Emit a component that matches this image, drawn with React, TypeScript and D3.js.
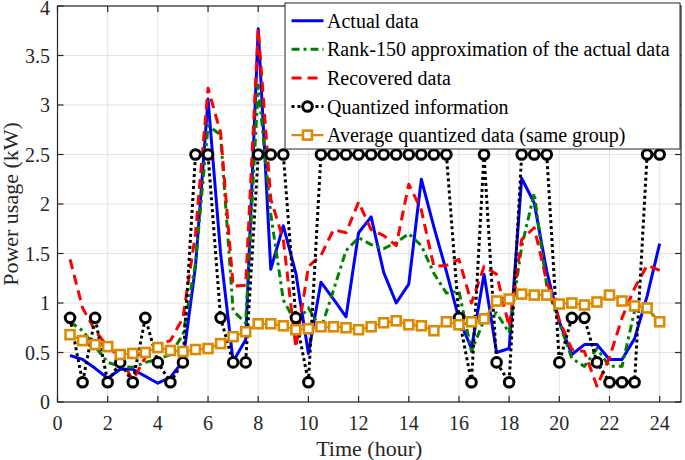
import React from 'react';
import * as d3 from 'd3';

// time axis (hours), one sample every half hour
const hours = [
  0.5, 1, 1.5, 2, 2.5, 3, 3.5, 4, 4.5, 5, 5.5, 6, 6.5, 7, 7.5, 8,
  8.5, 9, 9.5, 10, 10.5, 11, 11.5, 12, 12.5, 13, 13.5, 14, 14.5, 15, 15.5, 16,
  16.5, 17, 17.5, 18, 18.5, 19, 19.5, 20, 20.5, 21, 21.5, 22, 22.5, 23, 23.5, 24,
];

const actualData = [
  0.47, 0.43, 0.34, 0.24, 0.33, 0.33, 0.26, 0.19, 0.25, 0.41, 1.37, 3.06, 1.5, 0.41, 0.63, 3.77,
  1.34, 1.78, 1.3, 0.49, 1.21, 1.04, 0.86, 1.71, 1.87, 1.31, 1.0, 1.19, 2.25, 1.77, 1.32, 0.84,
  0.54, 1.29, 0.5, 0.54, 2.26, 2.01, 1.32, 0.81, 0.48, 0.58, 0.58, 0.43, 0.43, 0.64, 1.07, 1.6,
];

const rankApprox = [
  0.81, 0.72, 0.56, 0.4, 0.36, 0.35, 0.4, 0.43, 0.48, 0.68, 1.4, 2.79, 2.7, 0.92, 0.8, 3.2,
  1.9, 1.03, 0.8, 0.95, 0.74, 1.13, 1.53, 1.66, 1.59, 1.55, 1.61, 1.7, 1.58, 1.3, 1.1, 1.12,
  0.51, 0.83, 0.9, 0.7, 1.57, 2.11, 1.17, 0.8, 0.44, 0.36, 0.54, 0.36, 0.36, 0.92, 0.95, 0.8,
];

const recoveredData = [
  1.44, 0.95, 0.72, 0.56, 0.45, 0.22, 0.45, 0.58, 0.62, 0.85, 1.7, 3.17, 2.72, 1.17, 1.18, 3.77,
  2.05, 1.64, 0.55, 1.37, 1.48, 1.74, 1.71, 2.02, 1.74, 1.68, 1.58, 2.2, 1.94, 1.37, 1.38, 1.44,
  1.0, 1.37, 1.29, 0.76, 1.64, 1.76, 1.22, 0.83, 0.53, 0.51, 0.16, 0.45, 0.85, 1.15, 1.38, 1.33,
];

const quantizedInfo = [
  0.85, 0.2, 0.85, 0.2, 0.4, 0.2, 0.85, 0.4, 0.2, 0.4, 2.5, 2.5, 0.85, 0.4, 0.4, 2.5,
  2.5, 2.5, 0.85, 0.2, 2.5, 2.5, 2.5, 2.5, 2.5, 2.5, 2.5, 2.5, 2.5, 2.5, 2.5, 0.85,
  0.2, 2.5, 0.4, 0.2, 2.5, 2.5, 2.5, 0.4, 0.85, 0.85, 0.4, 0.2, 0.2, 0.2, 2.5, 2.5,
];

const avgQuantized = [
  0.68, 0.62, 0.58, 0.56, 0.48, 0.49, 0.5, 0.55, 0.52, 0.51, 0.53, 0.54, 0.59, 0.66, 0.71, 0.79,
  0.79, 0.77, 0.73, 0.74, 0.76, 0.76, 0.75, 0.73, 0.76, 0.8, 0.82, 0.78, 0.77, 0.72, 0.81, 0.78,
  0.81, 0.84, 1.02, 1.04, 1.09, 1.08, 1.08, 0.99, 1.0, 0.98, 1.01, 1.08, 1.02, 0.97, 0.95, 0.81,
];

const xTicks = [0, 2, 4, 6, 8, 10, 12, 14, 16, 18, 20, 22, 24];
const yTicks = [0, 0.5, 1, 1.5, 2, 2.5, 3, 3.5, 4];

const legendLabels = [
  'Actual data',
  'Rank-150 approximation of the actual data',
  'Recovered data',
  'Quantized information',
  'Average quantized data (same group)',
];

const FONT = '"Liberation Serif", "Times New Roman", serif';
const AXIS = '#262626';
const ORANGE = '#DC8A00';

export default function App() {
  const x = d3.scaleLinear().domain([0, 24.85]).range([57.5, 681]);
  const y = d3.scaleLinear().domain([0, 4]).range([402, 6]);
  const [x0, x1] = x.range();
  const [y0, y1] = y.range();

  const path = (vals: number[]) =>
    d3.line<number>().x((_, i) => x(hours[i])).y(d => y(d))(vals) || '';

  // line styles, same order as the legend
  const styles = [
    { data: actualData, color: '#0000FF', width: 3, dash: undefined as string | undefined, marker: '' },
    { data: rankApprox, color: '#008000', width: 3, dash: '8,4,3,4', marker: '' },
    { data: recoveredData, color: '#FF0000', width: 3, dash: '10,6', marker: '' },
    { data: quantizedInfo, color: '#000000', width: 3, dash: '3,3', marker: 'circle' },
    { data: avgQuantized, color: ORANGE, width: 2.2, dash: undefined, marker: 'square' },
  ];

  const drawMarker = (kind: string, cx: number, cy: number, color: string, key: any) => {
    if (kind === 'circle') {
      return <circle key={key} cx={cx} cy={cy} r={4.8} fill="#fff" stroke={color} strokeWidth={3} />;
    }
    if (kind === 'square') {
      return <rect key={key} x={cx - 4.5} y={cy - 4.5} width={9} height={9} fill="#fff" stroke={color} strokeWidth={2.6} />;
    }
    return null;
  };

  const legendTop = 20.7;
  const legendStep = 28.6;

  return (
    <svg width={685} height={460} style={{ position: 'absolute', left: 0, top: 0, background: '#fff' }}
      fontFamily={FONT}>
      <rect x={0} y={0} width={685} height={460} fill="#fff" />

      {/* grid */}
      {xTicks.map(t => (
        <line key={'gx' + t} x1={x(t)} x2={x(t)} y1={y0} y2={y1} stroke="#e3e3e3" strokeWidth={1} />
      ))}
      {yTicks.map(t => (
        <line key={'gy' + t} x1={x0} x2={x1} y1={y(t)} y2={y(t)} stroke="#e3e3e3" strokeWidth={1} />
      ))}

      {/* series */}
      {styles.map((s, i) => (
        <g key={'s' + i}>
          <path d={path(s.data)} fill="none" stroke={s.color} strokeWidth={s.width}
            strokeDasharray={s.dash} strokeLinejoin="round" />
          {s.marker && s.data.map((v, j) => drawMarker(s.marker, x(hours[j]), y(v), s.color, j))}
        </g>
      ))}

      {/* axes box and ticks */}
      <rect x={x0} y={y1} width={x1 - x0} height={y0 - y1} fill="none" stroke={AXIS} strokeWidth={1.2} />
      {xTicks.map(t => (
        <g key={'tx' + t}>
          <line x1={x(t)} x2={x(t)} y1={y0} y2={y0 - 6} stroke={AXIS} strokeWidth={1.2} />
          <line x1={x(t)} x2={x(t)} y1={y1} y2={y1 + 6} stroke={AXIS} strokeWidth={1.2} />
          <text x={x(t)} y={430} textAnchor="middle" fontSize={20} fill={AXIS}>{t}</text>
        </g>
      ))}
      {yTicks.map(t => (
        <g key={'ty' + t}>
          <line x1={x0} x2={x0 + 6} y1={y(t)} y2={y(t)} stroke={AXIS} strokeWidth={1.2} />
          <line x1={x1} x2={x1 - 6} y1={y(t)} y2={y(t)} stroke={AXIS} strokeWidth={1.2} />
          <text x={50} y={Math.max(y(t) + 7, 15)} textAnchor="end" fontSize={20} fill={AXIS}>{t}</text>
        </g>
      ))}

      {/* axis labels */}
      <text x={(x0 + x1) / 2} y={456} textAnchor="middle" fontSize={22} fill={AXIS}>Time (hour)</text>
      <text transform={`translate(18,${(y0 + y1) / 2}) rotate(-90)`} textAnchor="middle" fontSize={22} fill={AXIS}>
        Power usage (kW)
      </text>

      {/* legend */}
      <rect x={285} y={3} width={395} height={146} fill="#fff" stroke={AXIS} strokeWidth={1} />
      {styles.map((s, i) => {
        const cy = legendTop + i * legendStep;
        return (
          <g key={'lg' + i}>
            <line x1={291.5} x2={323.5} y1={cy} y2={cy} stroke={s.color} strokeWidth={s.width}
              strokeDasharray={s.dash} />
            {s.marker && drawMarker(s.marker, 307.5, cy, s.color, 'm')}
            <text x={327} y={cy + 7} fontSize={20} fill="#000">{legendLabels[i]}</text>
          </g>
        );
      })}
    </svg>
  );
}
